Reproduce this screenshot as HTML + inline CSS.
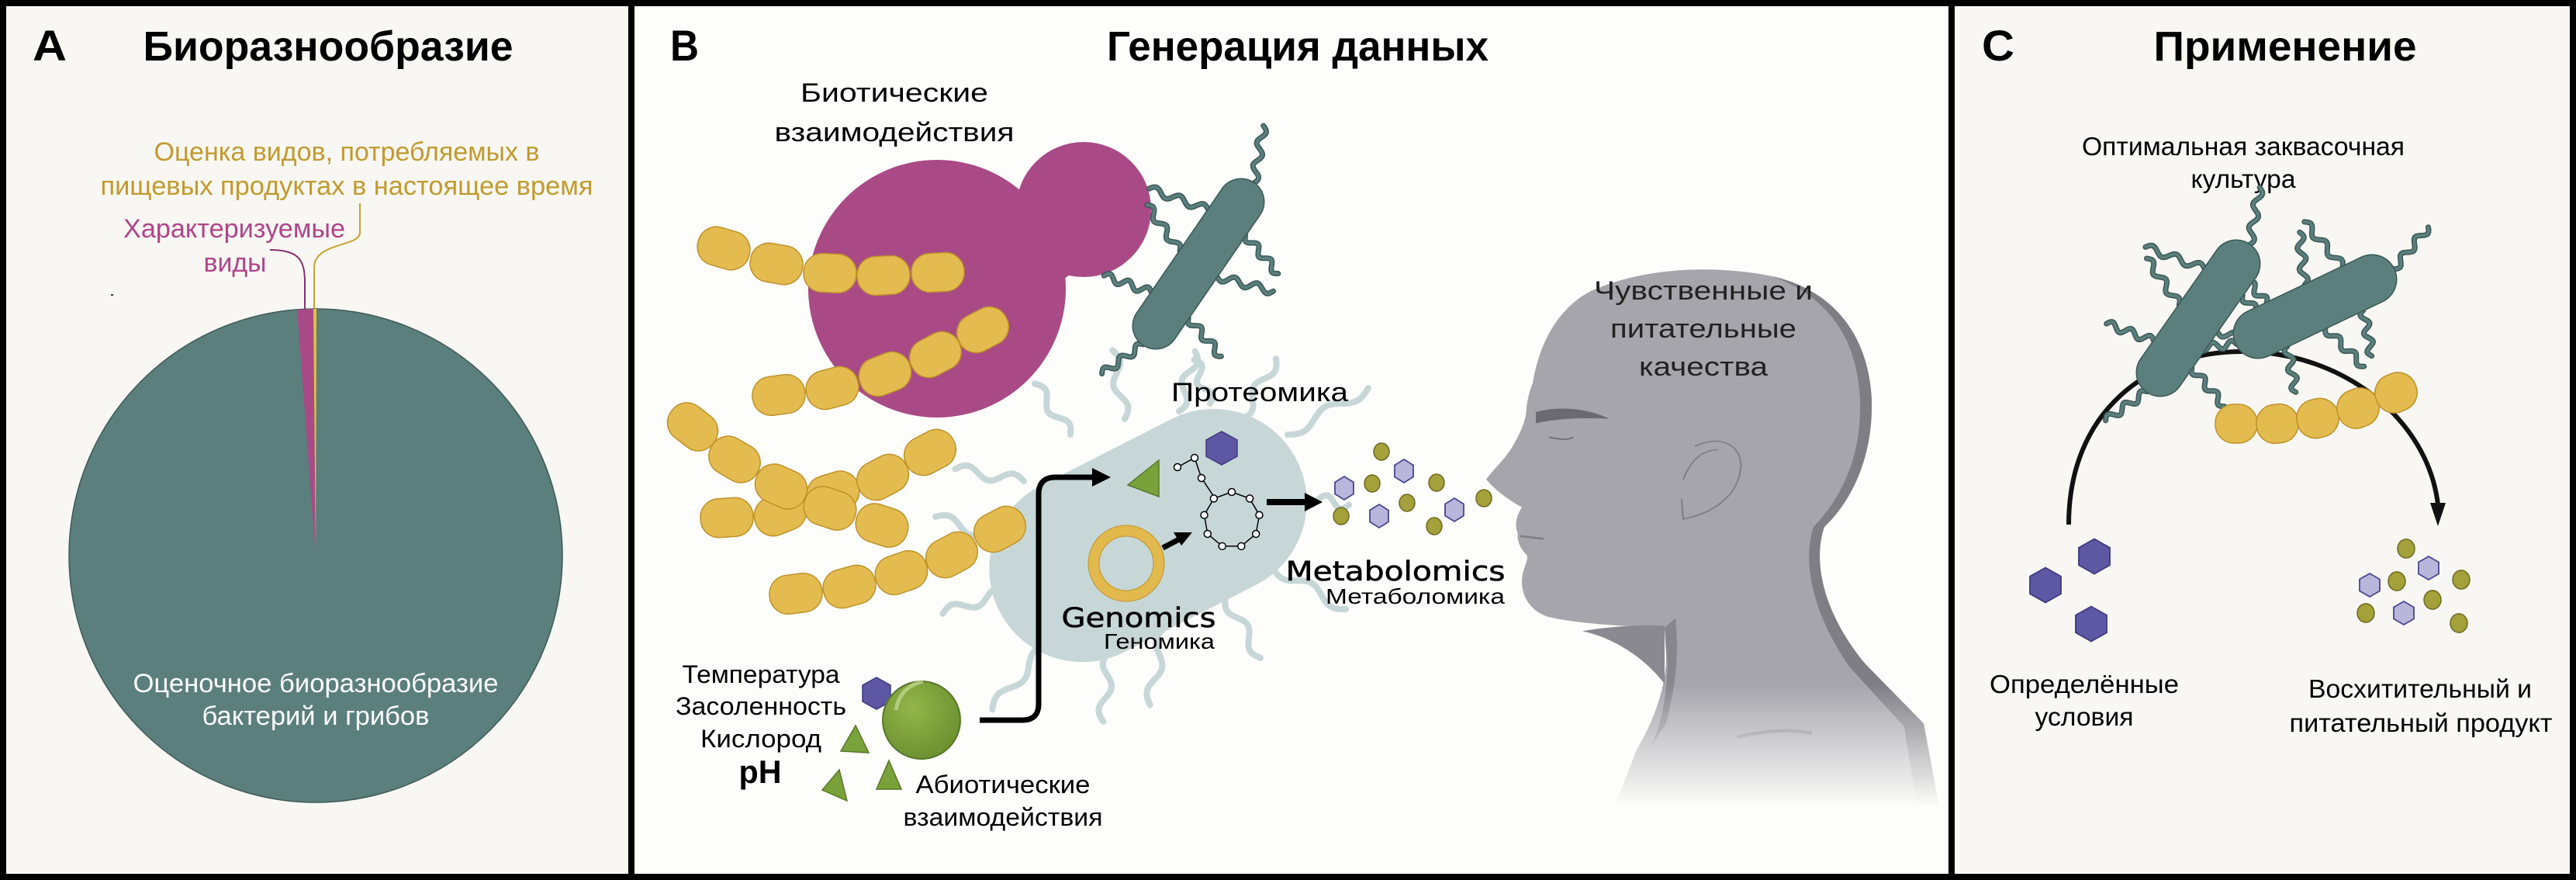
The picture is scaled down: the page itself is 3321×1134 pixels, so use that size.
<!DOCTYPE html>
<html><head><meta charset="utf-8"><style>
html,body{margin:0;padding:0;background:#000;}
svg{display:block}
text{font-family:"Liberation Sans",Arial,sans-serif;}
</style></head><body>
<svg id="s" xmlns="http://www.w3.org/2000/svg" width="3321" height="1134" viewBox="0 0 3321 1134">
<defs>
<linearGradient id="fade" x1="0" y1="0" x2="0" y2="1" gradientUnits="objectBoundingBox">
<stop offset="0" stop-color="#fff"/><stop offset="0.8" stop-color="#fff"/><stop offset="1" stop-color="#fff" stop-opacity="0"/></linearGradient>
<mask id="hm" maskUnits="userSpaceOnUse" x="1880" y="250" width="620" height="820"><rect x="1880" y="250" width="620" height="790" fill="url(#fade)"/></mask>
<radialGradient id="gs" cx="0.4" cy="0.35" r="0.7"><stop offset="0" stop-color="#93b54a"/><stop offset="1" stop-color="#6a8f2e"/></radialGradient>
</defs>
<rect x="0" y="0" width="3321" height="1134" fill="#000"/>
<rect x="8" y="8" width="802" height="1118" fill="#f8f7f3"/>
<rect x="818" y="8" width="1694" height="1118" fill="#fdfdfb"/>
<rect x="2520" y="8" width="793" height="1118" fill="#f8f7f3"/>

<!-- Panel A -->
<text x="42" y="78" font-size="56" font-weight="bold" textLength="44" lengthAdjust="spacingAndGlyphs">A</text>
<text x="423" y="78" font-size="54" font-weight="bold" text-anchor="middle" textLength="477" lengthAdjust="spacingAndGlyphs">Биоразнообразие</text>
<text x="447" y="207" font-size="34" fill="#c29a2e" text-anchor="middle" textLength="497" lengthAdjust="spacingAndGlyphs">Оценка видов, потребляемых в</text>
<text x="447" y="251" font-size="34" fill="#c29a2e" text-anchor="middle" textLength="635" lengthAdjust="spacingAndGlyphs">пищевых продуктах в настоящее время</text>
<text x="302" y="306" font-size="34" fill="#b0448a" text-anchor="middle" textLength="286" lengthAdjust="spacingAndGlyphs">Характеризуемые</text>
<text x="303" y="350" font-size="34" fill="#b0448a" text-anchor="middle" textLength="81" lengthAdjust="spacingAndGlyphs">виды</text>
<path d="M348,322 C385,322 392,335 393,360 L393,398" fill="none" stroke="#8a2f6e" stroke-width="2"/>
<path d="M464,262 L464,300 C464,318 405,312 405,345 L405,398" fill="none" stroke="#c9a22a" stroke-width="2"/>
<circle cx="407" cy="716" r="318" fill="#5b7f7c" stroke="#3f5a58" stroke-width="1.5"/>
<path d="M407,716 L383,399 A318,318 0 0 1 404,398 Z" fill="#a94a87"/>
<path d="M407,716 L404,398 A318,318 0 0 1 408,398 Z" fill="#e2c23a"/>
<text x="407" y="892" font-size="34" fill="#fff" text-anchor="middle" textLength="471" lengthAdjust="spacingAndGlyphs">Оценочное биоразнообразие</text>
<text x="407" y="934" font-size="34" fill="#fff" text-anchor="middle" textLength="293" lengthAdjust="spacingAndGlyphs">бактерий и грибов</text>
<rect x="143" y="379" width="3" height="2" fill="#333"/>

<!-- Panel B -->
<text x="864" y="78" font-size="56" font-weight="bold" textLength="37" lengthAdjust="spacingAndGlyphs">B</text>
<text x="1673" y="78" font-size="54" font-weight="bold" text-anchor="middle" textLength="492" lengthAdjust="spacingAndGlyphs">Генерация данных</text>
<text x="1153" y="131" font-size="34" text-anchor="middle" textLength="242" lengthAdjust="spacingAndGlyphs">Биотические</text>
<text x="1153" y="182" font-size="34" text-anchor="middle" textLength="309" lengthAdjust="spacingAndGlyphs">взаимодействия</text>

<g id="lightflag"></g>
<rect x="1265" y="570" width="430" height="240" rx="120" fill="#c7d7d7" transform="rotate(-27 1480 690)"/>

<g fill="#a94a87">
<circle cx="1208" cy="372" r="166"/>
<circle cx="1397" cy="270" r="87"/>
<path d="M1320,230 L1400,300 L1385,352 C1370,356 1362,370 1360,400 L1300,330 Z"/>
</g>
<g id="chains"></g>
<g id="tealflag"></g>
<g id="rods"></g>

<!-- cell contents -->
<circle cx="1452" cy="726" r="42" fill="none" stroke="#e2b94c" stroke-width="14"/>
<circle cx="1452" cy="726" r="49" fill="none" stroke="#c0932b" stroke-width="1"/>
<circle cx="1452" cy="726" r="35" fill="none" stroke="#c0932b" stroke-width="1"/>
<polygon points="1494,593 1494,640 1454,625" fill="#7aa23a" stroke="#56772a" stroke-width="1.5"/>
<polygon points="1575,556 1595,567 1595,588 1575,599 1555,588 1555,567" fill="#5e58a4" stroke="#3e3a80" stroke-width="1.5"/>
<g id="prot" fill="#fff" stroke="#000" stroke-width="1.5"></g>
<path d="M1499,706 L1522,694" stroke="#000" stroke-width="7"/>
<polygon points="1537,686 1513,686 1523,703" fill="#000"/>
<path d="M1633,647 L1685,647" stroke="#000" stroke-width="8"/>
<polygon points="1705,647 1682,635 1682,659" fill="#000"/>
<path d="M1263,928 L1318,928 Q1339,928 1339,907 L1339,637 Q1339,615 1361,615 L1412,615" fill="none" stroke="#000" stroke-width="7"/>
<polygon points="1432,615 1408,603 1408,627" fill="#000"/>
<text x="1624" y="517" font-size="34" text-anchor="middle" textLength="228" lengthAdjust="spacingAndGlyphs">Протеомика</text>
<text x="1468" y="808" font-size="35" text-anchor="middle" textLength="199" lengthAdjust="spacingAndGlyphs" style="font-family:'DejaVu Sans',sans-serif" stroke="#000" stroke-width="0.6">Genomics</text>
<text x="1566" y="836" font-size="28" text-anchor="end" textLength="143" lengthAdjust="spacingAndGlyphs">Геномика</text>
<text x="1799" y="748" font-size="35" text-anchor="middle" textLength="283" lengthAdjust="spacingAndGlyphs" style="font-family:'DejaVu Sans',sans-serif" stroke="#000" stroke-width="0.6">Metabolomics</text>
<text x="1940" y="778" font-size="28" text-anchor="end" textLength="231" lengthAdjust="spacingAndGlyphs">Метаболомика</text>
<g id="metab"></g>

<!-- abiotic -->
<polygon points="1130,873 1148,883 1148,904 1130,914 1112,904 1112,883" fill="#5e58a4" stroke="#3e3a80" stroke-width="1.5"/>
<circle cx="1188" cy="928" r="50" fill="url(#gs)" stroke="#56772a" stroke-width="2"/>
<path d="M1155,915 Q1160,885 1190,878" fill="none" stroke="#c5dc95" stroke-width="5" opacity="0.7"/>
<polygon points="1103,935 1120,970 1084,968" fill="#7aa23a" stroke="#56772a" stroke-width="1.5"/>
<polygon points="1082,992 1092,1032 1060,1018" fill="#7aa23a" stroke="#56772a" stroke-width="1.5"/>
<polygon points="1146,980 1162,1017 1130,1017" fill="#7aa23a" stroke="#56772a" stroke-width="1.5"/>
<text x="981" y="880" font-size="32" text-anchor="middle" textLength="203" lengthAdjust="spacingAndGlyphs">Температура</text>
<text x="981" y="921" font-size="32" text-anchor="middle" textLength="220" lengthAdjust="spacingAndGlyphs">Засоленность</text>
<text x="981" y="963" font-size="32" text-anchor="middle" textLength="156" lengthAdjust="spacingAndGlyphs">Кислород</text>
<text x="980" y="1009" font-size="42" font-weight="bold" text-anchor="middle" textLength="55" lengthAdjust="spacingAndGlyphs">pH</text>
<text x="1293" y="1022" font-size="32" text-anchor="middle" textLength="225" lengthAdjust="spacingAndGlyphs">Абиотические</text>
<text x="1293" y="1064" font-size="32" text-anchor="middle" textLength="257" lengthAdjust="spacingAndGlyphs">взаимодействия</text>

<!-- head -->
<g mask="url(#hm)">
<g transform="matrix(1,0,0,0.85,0,116.3)">
<path d="M1976,444 C1985,380 2010,330 2050,305 C2110,272 2200,262 2285,282 C2370,305 2410,380 2413,470 C2415,560 2385,625 2352,662 C2335,720 2355,800 2405,870 L2480,960 L2510,1150 L2060,1150 L2110,1000 C2135,950 2148,900 2148,860 L2146,815 C2080,812 2030,808 1995,798 C1975,790 1962,770 1962,745 C1962,725 1972,712 1968,704 C1960,695 1955,682 1957,672 C1952,660 1955,645 1962,632 C1945,622 1925,603 1916,590 C1925,575 1940,560 1950,540 C1960,520 1968,500 1968,480 C1970,465 1972,455 1976,444Z" fill="#a6a5ab"/>
<path d="M2285,282 C2370,305 2410,380 2413,470 C2415,560 2385,625 2352,662 C2335,720 2355,800 2405,870 L2480,960 L2510,1150 L2480,1150 L2455,965 L2385,875 C2340,800 2322,720 2338,662 C2372,620 2400,560 2398,470 C2395,380 2360,315 2285,282Z" fill="#7f7e85"/>
<path d="M2146,815 L2150,870 C2148,930 2140,970 2125,1000 L2148,960 C2160,900 2165,860 2160,800 Z" fill="#87868c"/>
<path d="M2040,820 C2080,812 2120,810 2146,812 L2146,900 C2120,860 2080,830 2040,820Z" fill="#8a898f"/>
<path d="M1980,488 C2010,478 2045,482 2075,498 C2040,496 2005,498 1980,505 Z" fill="#6b6a70"/>
<path d="M1997,526 Q2020,532 2028,526" fill="none" stroke="#6b6a70" stroke-width="2"/>
<path d="M1960,676 Q1975,678 1990,680" fill="none" stroke="#7f7e85" stroke-width="3"/>
<path d="M2185,540 C2220,520 2248,540 2244,575 C2240,610 2215,640 2170,650 L2168,620" fill="none" stroke="#7f7e85" stroke-width="2"/>
<path d="M2170,590 C2180,560 2195,545 2215,545" fill="none" stroke="#7f7e85" stroke-width="2"/>
<path d="M2240,980 Q2300,965 2336,975" fill="none" stroke="#8a898f" stroke-width="5"/>
</g>
</g>
<text x="2196" y="386" font-size="34" fill="#222" text-anchor="middle" textLength="282" lengthAdjust="spacingAndGlyphs">Чувственные и</text>
<text x="2196" y="435" font-size="34" fill="#222" text-anchor="middle" textLength="240" lengthAdjust="spacingAndGlyphs">питательные</text>
<text x="2196" y="484" font-size="34" fill="#222" text-anchor="middle" textLength="166" lengthAdjust="spacingAndGlyphs">качества</text>

<!-- Panel C -->
<text x="2555" y="78" font-size="56" font-weight="bold" textLength="42" lengthAdjust="spacingAndGlyphs">C</text>
<text x="2946" y="78" font-size="54" font-weight="bold" text-anchor="middle" textLength="339" lengthAdjust="spacingAndGlyphs">Применение</text>
<text x="2892" y="200" font-size="33" text-anchor="middle" textLength="416" lengthAdjust="spacingAndGlyphs">Оптимальная заквасочная</text>
<text x="2892" y="242" font-size="33" text-anchor="middle" textLength="135" lengthAdjust="spacingAndGlyphs">культура</text>
<path d="M2667,676 C2667,530 2770,453 2891,453 C3020,453 3130,540 3143,650" fill="none" stroke="#111" stroke-width="6"/>
<polygon points="3143,678 3133,648 3153,648" fill="#111"/>
<g id="cstuff"></g>
<text x="2687" y="893" font-size="33" text-anchor="middle" textLength="244" lengthAdjust="spacingAndGlyphs">Определённые</text>
<text x="2687" y="935" font-size="33" text-anchor="middle" textLength="127" lengthAdjust="spacingAndGlyphs">условия</text>
<text x="3120" y="899" font-size="33" text-anchor="middle" textLength="288" lengthAdjust="spacingAndGlyphs">Восхитительный и</text>
<text x="3121" y="943" font-size="33" text-anchor="middle" textLength="339" lengthAdjust="spacingAndGlyphs">питательный продукт</text>
</svg>
<script>
var NS="http://www.w3.org/2000/svg";
function el(p,t,a){var e=document.createElementNS(NS,t);for(var k in a)e.setAttribute(k,a[k]);document.getElementById(p).appendChild(e);return e;}
function chain(p,pts,w,h){for(var i=0;i<pts.length;i++){var a,q=pts[i];
 var j=i<pts.length-1?i+1:i-1;var d=i<pts.length-1?1:-1;
 a=Math.atan2((pts[j][1]-q[1])*d,(pts[j][0]-q[0])*d)*180/Math.PI;
 el(p,'rect',{x:q[0]-w/2,y:q[1]-h/2,width:w,height:h,rx:h*0.48,fill:'#e3bb4f',stroke:'#bf922a','stroke-width':1.5,transform:'rotate('+a+' '+q[0]+' '+q[1]+')'});}}
function wave(x,y,ang,len,amp,nw){var a=ang*Math.PI/180,c=Math.cos(a),s=Math.sin(a),d='M'+x+','+y;
 for(var i=1;i<=30;i++){var t=i/30*len,o=amp*Math.sin(i/30*nw*2*Math.PI);d+=' L'+(x+c*t-s*o).toFixed(1)+','+(y+s*t+c*o).toFixed(1);}return d;}
function flag(p,x,y,ang,len,amp,nw,col,w,out){if(out)el(p,'path',{d:wave(x,y,ang,len,amp,nw),fill:'none',stroke:out,'stroke-width':w+3,'stroke-linecap':'round'});
 el(p,'path',{d:wave(x,y,ang,len,amp,nw),fill:'none',stroke:col,'stroke-width':w,'stroke-linecap':'round'});}
function rod(p,x1,y1,x2,y2,w){el(p,'line',{x1:x1,y1:y1,x2:x2,y2:y2,stroke:'#3a5856','stroke-width':w+3,'stroke-linecap':'round'});
 el(p,'line',{x1:x1,y1:y1,x2:x2,y2:y2,stroke:'#5b7f7c','stroke-width':w,'stroke-linecap':'round'});}
function rodFlags(p,x1,y1,x2,y2,w,n,len){var dx=x2-x1,dy=y2-y1,L=Math.hypot(dx,dy),ux=dx/L,uy=dy/L,base=Math.atan2(uy,ux)*180/Math.PI;
 for(var i=0;i<n;i++){var t=(i+0.5)/n;var px=x1+dx*t,py=y1+dy*t;
  flag(p,px+uy*w/2,py-ux*w/2,base-90+(i%2?20:-15),len+(i%3)*8,5,2.5,'#5b7f7c',4,'#3a5856');
  flag(p,px-uy*w/2,py+ux*w/2,base+90+(i%2?-20:15),len+(i%2)*10,5,2.5,'#5b7f7c',4,'#3a5856');}
 flag(p,x1-ux*w/2,y1-uy*w/2,base+180+20,len,5,2.5,'#5b7f7c',4,'#3a5856');
 flag(p,x2+ux*w/2,y2+uy*w/2,base-25,len+10,5,2.5,'#5b7f7c',4,'#3a5856');}
var lf=[[1300,700,200,100],[1320,620,190,90],[1380,560,235,80],[1450,540,260,90],[1520,530,285,80],[1600,540,300,90],[1660,560,330,120],[1680,640,10,60],[1640,730,30,110],[1580,770,60,90],[1500,810,100,100],[1430,840,95,90],[1350,830,130,110],[1300,760,160,90],[1560,520,250,60]];
lf.forEach(function(f){flag('lightflag',f[0],f[1],f[2],f[3],7,1.5,'#c7d7d7',8,null);});
chain('chains',[[933,320],[1001,340],[1070,352],[1139,355],[1209,351]],68,50);
chain('chains',[[1004,509],[1073,500],[1141,482],[1206,457],[1267,425]],68,50);
chain('chains',[[937,667],[1006,662],[1074,635],[1138,615],[1199,583]],68,50);
chain('chains',[[893,550],[947,592],[1007,627],[1070,655],[1137,677]],68,50);
chain('chains',[[1026,765],[1095,756],[1162,738],[1227,715],[1289,682]],68,50);
rodFlags('tealflag',1490,420,1600,260,58,3,65);
rod('rods',1490,420,1600,260,58);
var cx=1588,cy=670,R=36,pts=[];for(var i=0;i<9;i++){var a=-Math.PI/2+i*2*Math.PI/9;pts.push([cx+R*Math.cos(a),cy+R*Math.sin(a)]);}
var d='M'+pts.map(function(p){return p[0].toFixed(1)+','+p[1].toFixed(1)}).join(' L')+'Z';
el('prot','path',{d:d,fill:'none'});
el('prot','path',{d:'M1567,643 L1549,616 L1540,590 L1518,602',fill:'none'});
pts.concat([[1549,616],[1540,590],[1518,602]]).forEach(function(p){el('prot','circle',{cx:p[0],cy:p[1],r:4.5});});
function hex(p,x,y,w,h,f,s){var pp=[[x,y-h/2],[x+w/2,y-h/4],[x+w/2,y+h/4],[x,y+h/2],[x-w/2,y+h/4],[x-w/2,y-h/4]];
 el(p,'polygon',{points:pp.map(function(q){return q.join(',')}).join(' '),fill:f,stroke:s,'stroke-width':1.8});}
function ol(p,x,y,r){el(p,'ellipse',{cx:x,cy:y,rx:r,ry:r*1.1,fill:'#a4a03a',stroke:'#6d6a20','stroke-width':1.5});}
[[1781,582],[1769,623],[1852,622],[1814,648],[1913,642],[1849,678],[1729,665]].forEach(function(q){ol('metab',q[0],q[1],10);});
[[1733,629],[1810,607],[1778,665],[1875,657]].forEach(function(q){hex('metab',q[0],q[1],24,30,'#b9b6dc','#4a4590');});
rodFlags('cstuff',2911,430,3058,360,62,3,60);
rodFlags('cstuff',2785,480,2883,340,60,3,65);
rod('cstuff',2785,480,2883,340,60);
rod('cstuff',2911,430,3058,360,62);
chain('cstuff',[[2883,546],[2936,546],[2988,539],[3040,526],[3089,506]],54,50);
[[2700,717],[2637,754],[2696,804]].forEach(function(q){hex('cstuff',q[0],q[1],40,45,'#5e58a4','#3e3a80');});
[[3102,707],[3090,749],[3173,747],[3136,773],[3050,790],[3170,803]].forEach(function(q){ol('cstuff',q[0],q[1],11);});
[[3131,732],[3055,754],[3099,790]].forEach(function(q){hex('cstuff',q[0],q[1],26,30,'#b9b6dc','#4a4590');});
</script>
</body></html>
